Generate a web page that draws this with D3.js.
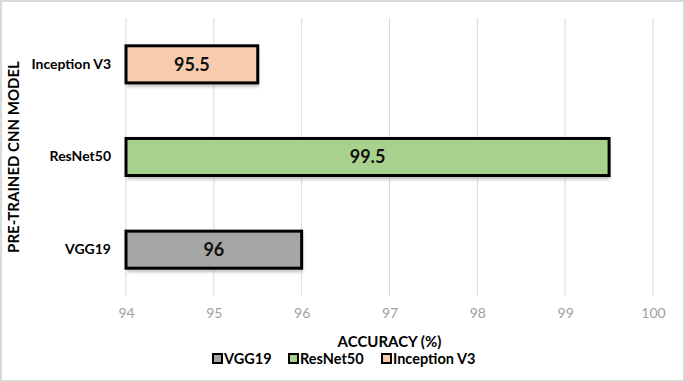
<!DOCTYPE html>
<html>
<head>
<meta charset="utf-8">
<script src="https://cdn.jsdelivr.net/npm/d3@7"></script>
<style>
  body { margin: 0; background: #fff; }
  svg { display: block; font-family: Lato, "Open Sans", sans-serif; }
</style>
</head>
<body>
<div id="canvas"></div>
<script>
"use strict";

let svgWidth = 685;
let svgHeight = 382;
let margin = { top: 18, right: 32, bottom: 86, left: 126 };

/* === Data === */
let models = ["VGG19", "ResNet50", "Inception V3"];
let accuracy = [96, 99.5, 95.5];
let barColors = ["#a6a6a6", "#a9d18e", "#f8cbad"];
let xTicks = [94, 95, 96, 97, 98, 99, 100];

let data = models.map((m, i) => ({ model: m, value: accuracy[i], color: barColors[i] }));

/* === Scales === */
let xScale = d3.scaleLinear()
  .domain([94, 100])
  .range([margin.left, svgWidth - margin.right]);

let yScale = d3.scaleBand()
  .domain(models.slice().reverse())
  .range([margin.top, svgHeight - margin.bottom])
  .paddingInner(0.6)
  .paddingOuter(0.3);

/* === SVG === */
let svg = d3.select("#canvas")
  .append("svg")
  .attr("width", svgWidth)
  .attr("height", svgHeight);

// outer frame
svg.append("rect")
  .attr("x", 1).attr("y", 1)
  .attr("width", svgWidth - 2).attr("height", svgHeight - 2)
  .attr("fill", "#fff")
  .attr("stroke", "#d9d9d9")
  .attr("stroke-width", 2);

/* === Grid === */
svg.append("g")
  .selectAll("line")
  .data(xTicks)
  .enter()
  .append("line")
  .attr("x1", d => xScale(d)).attr("x2", d => xScale(d))
  .attr("y1", margin.top).attr("y2", svgHeight - margin.bottom)
  .attr("stroke", "#d9d9d9")
  .attr("stroke-width", 1);

/* === X axis labels === */
let xAxis = svg.append("g")
  .attr("transform", `translate(0, ${svgHeight - margin.bottom})`)
  .call(d3.axisBottom(xScale).tickValues(xTicks).tickSize(0).tickPadding(12).tickFormat(d3.format("d")));
xAxis.select(".domain").remove();
xAxis.selectAll("text")
  .attr("fill", "#a0a0a0")
  .attr("font-size", "14px")
  .attr("font-family", "Lato, sans-serif");

/* === Y axis labels === */
let yAxis = svg.append("g")
  .attr("transform", `translate(${margin.left}, 0)`)
  .call(d3.axisLeft(yScale).tickSize(0).tickPadding(15));
yAxis.select(".domain").remove();
yAxis.selectAll("text")
  .attr("fill", "#000")
  .attr("font-size", "14px")
  .attr("font-weight", "bold")
  .attr("font-family", "Lato, sans-serif");

/* === Bars (shadow + bar) === */
let bars = svg.append("g");

bars.selectAll("rect.shadow")
  .data(data)
  .enter()
  .append("rect")
  .classed("shadow", true)
  .attr("x", xScale(94) + 1)
  .attr("y", d => yScale(d.model) + 4)
  .attr("width", d => xScale(d.value) - xScale(94))
  .attr("height", yScale.bandwidth())
  .attr("fill", "#8a8a8a")
  .attr("opacity", 0.5)
  .style("filter", "blur(1.5px)");

bars.selectAll("rect.bar")
  .data(data)
  .enter()
  .append("rect")
  .classed("bar", true)
  .attr("x", xScale(94))
  .attr("y", d => yScale(d.model))
  .attr("width", d => xScale(d.value) - xScale(94))
  .attr("height", yScale.bandwidth())
  .attr("fill", d => d.color)
  .attr("stroke", "#000")
  .attr("stroke-width", 3);

bars.selectAll("text.val")
  .data(data)
  .enter()
  .append("text")
  .classed("val", true)
  .attr("x", d => (xScale(94) + xScale(d.value)) / 2)
  .attr("y", d => yScale(d.model) + yScale.bandwidth() / 2)
  .attr("dy", "0.36em")
  .attr("text-anchor", "middle")
  .attr("font-size", "18px")
  .attr("font-weight", "bold")
  .attr("fill", "#111")
  .text(d => d.value);

/* === Axis titles === */
svg.append("text")
  .attr("x", (xScale(94) + xScale(100)) / 2)
  .attr("y", 347)
  .attr("text-anchor", "middle")
  .attr("font-size", "15px")
  .attr("font-weight", "bold")
  .text("ACCURACY (%)");

svg.append("text")
  .attr("transform", `translate(19, ${(margin.top + svgHeight - margin.bottom) / 2}) rotate(-90)`)
  .attr("text-anchor", "middle")
  .attr("font-size", "15px")
  .attr("font-weight", "bold")
  .text("PRE-TRAINED CNN MODEL");

/* === Legend === */
let legend = svg.append("g");
let legendX = [213, 289, 382];
data.forEach((d, i) => {
  let g = legend.append("g").attr("transform", `translate(${legendX[i]}, 359)`);
  g.append("rect")
    .attr("x", 0).attr("y", -5)
    .attr("width", 9).attr("height", 9)
    .attr("fill", d.color)
    .attr("stroke", "#000")
    .attr("stroke-width", 2);
  g.append("text")
    .attr("x", 11)
    .attr("y", 0)
    .attr("dy", "0.36em")
    .attr("font-size", "14.5px")
    .attr("font-weight", "bold")
    .text(d.model);
});
</script>
</body>
</html>
